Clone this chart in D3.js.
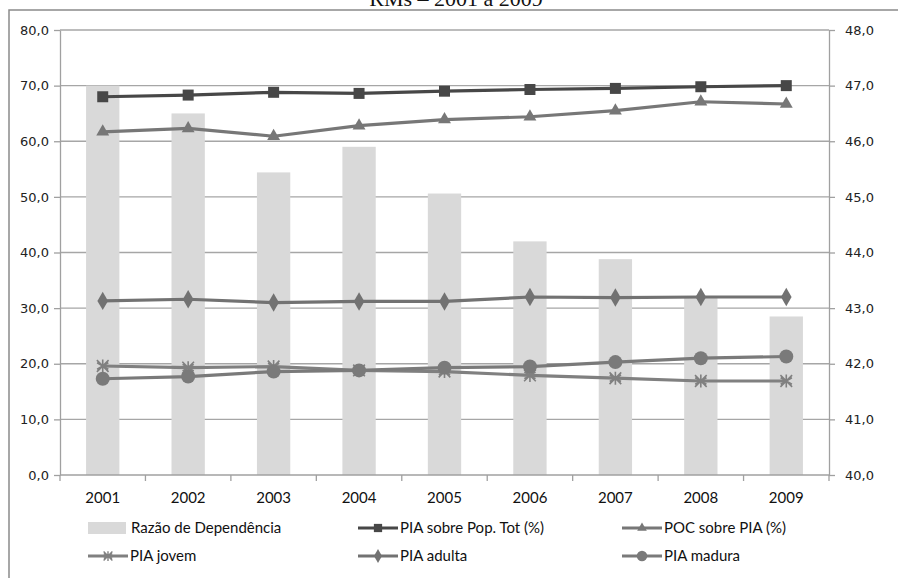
<!DOCTYPE html>
<html><head><meta charset="utf-8">
<script src="https://cdn.jsdelivr.net/npm/d3@7"></script>
<style>body{margin:0;background:#fff}svg{display:block}</style>
</head><body>
<svg id="c" width="898" height="578"></svg>
<script>
const years = ["2001","2002","2003","2004","2005","2006","2007","2008","2009"];
const razaoDependencia = [47.0, 46.5, 45.44, 45.9, 45.06, 44.2, 43.88, 43.2, 42.85];
const piaSobrePop = [68.0, 68.3, 68.8, 68.6, 69.0, 69.3, 69.5, 69.8, 70.0];
const pocSobrePia = [61.7, 62.3, 60.9, 62.8, 63.9, 64.4, 65.5, 67.1, 66.7];
const piaJovem = [19.6, 19.3, 19.5, 18.8, 18.6, 17.9, 17.4, 16.9, 16.9];
const piaAdulta = [31.3, 31.6, 31.0, 31.2, 31.2, 32.0, 31.9, 32.0, 32.0];
const piaMadura = [17.3, 17.7, 18.6, 18.8, 19.3, 19.5, 20.3, 21.0, 21.3];
const leftTicks = [0,10,20,30,40,50,60,70,80];
const rightTicks = [40,41,42,43,44,45,46,47,48];
const title = "RMs – 2001 a 2009";

const svg = d3.select("#c");
const L = 60, R = 829, T = 30, B = 475;

const x = d3.scaleBand().domain(years).range([L, R]).paddingInner(0.61).paddingOuter(0.305);
const yL = d3.scaleLinear().domain([0, 80]).range([B, T]);
const yR = d3.scaleLinear().domain([40, 48]).range([B, T]);
const cx = d => x(d) + x.bandwidth() / 2;

// outer border
svg.append("rect").attr("x", 9).attr("y", 10).attr("width", 950).attr("height", 600)
  .attr("fill", "none").attr("stroke", "#8a8a8a").attr("stroke-width", 1.5);

// title (cut at top)
svg.append("text").attr("x", 456).attr("y", 6).attr("text-anchor", "middle")
  .attr("font-family", "Liberation Serif, Times New Roman, serif").attr("font-size", 22)
  .attr("fill", "#111").text(title);

// gridlines
svg.append("g").selectAll("line").data(leftTicks.slice(1)).join("line")
  .attr("x1", L).attr("x2", R).attr("y1", d => yL(d)).attr("y2", d => yL(d))
  .attr("stroke", "#a6a6a6").attr("stroke-width", 1.3);

// bars (right axis)
svg.append("g").selectAll("rect").data(years).join("rect")
  .attr("x", d => x(d)).attr("width", x.bandwidth())
  .attr("y", (d, i) => yR(razaoDependencia[i]))
  .attr("height", (d, i) => B - yR(razaoDependencia[i]))
  .attr("fill", "#d9d9d9");

// axes
const axStyle = g => {
  g.select(".domain").attr("stroke", "#a0a0a0").attr("stroke-width", 1.3);
  g.selectAll(".tick line").attr("stroke", "#a0a0a0").attr("stroke-width", 1.3);
  g.selectAll("text").attr("font-family", "DejaVu Sans, Verdana, sans-serif").attr("font-size", 13).attr("fill", "#222");
};
const fmt = d => d3.format(".1f")(d).replace(".", ",");
svg.append("g").attr("transform", `translate(${L},0)`)
  .call(d3.axisLeft(yL).tickValues(leftTicks).tickFormat(fmt).tickSize(6).tickSizeOuter(0).tickPadding(5))
  .call(axStyle);
svg.append("g").attr("transform", `translate(${R},0)`)
  .call(d3.axisRight(yR).tickValues(rightTicks).tickFormat(fmt).tickSize(6).tickSizeOuter(0).tickPadding(10))
  .call(axStyle);

// x axis
const xg = svg.append("g");
xg.append("line").attr("x1", L).attr("x2", R).attr("y1", B).attr("y2", B).attr("stroke", "#a0a0a0").attr("stroke-width", 1.3);
const step = x.step();
xg.selectAll("line.t").data(d3.range(10)).join("line").attr("class", "t")
  .attr("x1", i => L + i * step).attr("x2", i => L + i * step).attr("y1", B).attr("y2", B + 6)
  .attr("stroke", "#a0a0a0").attr("stroke-width", 1.3);
xg.selectAll("text").data(years).join("text")
  .attr("x", d => cx(d)).attr("y", B + 28).attr("text-anchor", "middle")
  .attr("font-family", "Lato, sans-serif").attr("font-size", 15).attr("fill", "#111").text(d => d);

// marker shapes
function markerPath(type, s) {
  if (type === "square") return d3.symbol(d3.symbolSquare, s * s)();
  if (type === "triangle") return d3.symbol(d3.symbolTriangle, s * s * 0.5)();
  if (type === "diamond") return d3.symbol(d3.symbolDiamond, s * s * 0.5)();
  if (type === "circle") return d3.symbol(d3.symbolCircle, Math.PI * (s / 2) * (s / 2))();
  if (type === "star") {
    const r = s / 2, a = r * 0.866, b = r * 0.5;
    return `M0,${-r}L0,${r}M${-a},${-b}L${a},${b}M${-a},${b}L${a},${-b}M${-r*0.9},${-r*0.9}L${r*0.9},${r*0.9}M${-r*0.9},${r*0.9}L${r*0.9},${-r*0.9}`;
  }
}

const series = [
  {name: "PIA sobre Pop. Tot (%)", values: piaSobrePop, color: "#474747", marker: "square", size: 11},
  {name: "POC sobre PIA (%)", values: pocSobrePia, color: "#777777", marker: "triangle", size: 12},
  {name: "PIA jovem", values: piaJovem, color: "#808080", marker: "star", size: 13},
  {name: "PIA adulta", values: piaAdulta, color: "#727272", marker: "diamond", size: 14},
  {name: "PIA madura", values: piaMadura, color: "#7a7a7a", marker: "circle", size: 14}
];

const line = d3.line().x((d, i) => cx(years[i])).y(d => yL(d));
const drawOrder = [2, 3, 4, 1, 0];
drawOrder.forEach(k => {
  const s = series[k];
  svg.append("path").attr("d", line(s.values)).attr("fill", "none")
    .attr("stroke", s.color).attr("stroke-width", 3.2).attr("stroke-linejoin", "round");
  svg.append("g").selectAll("path").data(s.values).join("path")
    .attr("transform", (d, i) => `translate(${cx(years[i])},${yL(d)})`)
    .attr("d", markerPath(s.marker, s.size))
    .attr("fill", s.marker === "star" ? "none" : s.color)
    .attr("stroke", s.color).attr("stroke-width", s.marker === "star" ? 1.6 : 0);
});

// legend
const lg = svg.append("g").attr("font-family", "Lato, sans-serif").attr("font-size", 15).attr("fill", "#111");
const legendItems = [
  {name: "Razão de Dependência", bar: true, col: 0, row: 0},
  {s: series[0], col: 1, row: 0},
  {s: series[1], col: 2, row: 0},
  {s: series[2], col: 0, row: 1},
  {s: series[3], col: 1, row: 1},
  {s: series[4], col: 2, row: 1}
];
const colX = [88, 358, 622], rowY = [528, 556];
legendItems.forEach(it => {
  const x0 = colX[it.col], y0 = rowY[it.row];
  if (it.bar) {
    lg.append("rect").attr("x", x0).attr("y", y0 - 6).attr("width", 38).attr("height", 12).attr("fill", "#d9d9d9");
    lg.append("text").attr("x", x0 + 43).attr("y", y0 + 5).text(it.name);
  } else {
    const s = it.s;
    lg.append("line").attr("x1", x0).attr("x2", x0 + 40).attr("y1", y0).attr("y2", y0)
      .attr("stroke", s.color).attr("stroke-width", 3.2);
    lg.append("path").attr("transform", `translate(${x0 + 20},${y0})`).attr("d", markerPath(s.marker, s.size * 0.75))
      .attr("fill", s.marker === "star" ? "none" : s.color).attr("stroke", s.color)
      .attr("stroke-width", s.marker === "star" ? 1.4 : 0);
    lg.append("text").attr("x", x0 + 42).attr("y", y0 + 5).text(s.name);
  }
});
</script>
</body></html>
